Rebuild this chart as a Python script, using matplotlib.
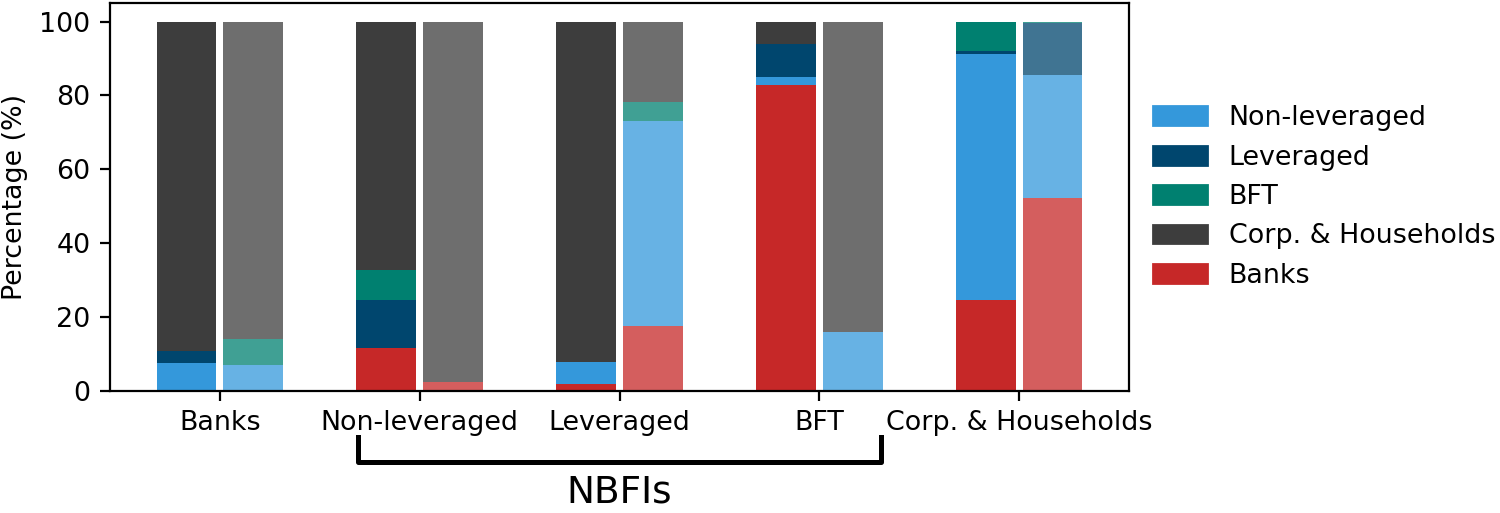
import numpy as np
import matplotlib
matplotlib.use('Agg')
import matplotlib.pyplot as plt
from matplotlib.patches import Patch
import matplotlib.transforms as mtransforms

#--① data (percent shares)
categories = ['Banks', 'Non-leveraged', 'Leveraged', 'BFT', 'Corp. & Households']

# left (solid) bars
banks_a  = [0.0, 11.6, 1.9, 82.8, 24.7]
nonlev_a = [7.5, 0.0, 6.0, 2.3, 66.6]
lev_a    = [3.4, 13.0, 0.0, 8.7, 0.8]
bft_a    = [0.0, 8.2, 0.0, 0.0, 7.9]
corp_a   = [89.1, 67.2, 92.1, 6.2, 0.0]

# right (light) bars
banks_b  = [0.0, 2.4, 17.6, 0.0, 52.1]
nonlev_b = [7.1, 0.0, 55.6, 16.0, 33.5]
lev_b    = [0.0, 0.0, 0.0, 0.0, 14.1]
bft_b    = [7.0, 0.0, 4.9, 0.0, 0.3]
corp_b   = [85.9, 97.6, 21.9, 84.0, 0.0]

#--② colours
c_nonlev = '#3498db'
c_lev = '#00466e'
c_bft = '#008070'
c_corp = '#3d3d3d'
c_banks = '#c62828'

fs = 9.7
x = np.arange(len(categories))
w = 0.3
off = 0.167

fig = plt.figure(figsize=(7.5, 2.565), dpi=200)
ax = fig.add_axes([0.0733, 0.238, 0.6794, 0.756])

#--③ stacked bars, bottom to top: banks, non-lev, lev, BFT, corp
def stack(pos, series, alpha):
    bottom = np.zeros(len(categories))
    for vals, col in series:
        ax.bar(pos, vals, w, bottom=bottom, color=col, alpha=alpha, linewidth=0)
        bottom += np.array(vals)

stack(x - off, [(banks_a, c_banks), (nonlev_a, c_nonlev), (lev_a, c_lev),
                (bft_a, c_bft), (corp_a, c_corp)], 1.0)
stack(x + off, [(banks_b, c_banks), (nonlev_b, c_nonlev), (lev_b, c_lev),
                (bft_b, c_bft), (corp_b, c_corp)], 0.75)

ax.set_xlim(-0.55, 4.55)
ax.set_ylim(0, 105)
ax.set_yticks([0, 20, 40, 60, 80, 100])
ax.set_xticks(x)
ax.set_xticklabels(categories, fontsize=fs)
ax.tick_params(axis='y', labelsize=fs)
ax.set_ylabel('Percentage (%)', fontsize=fs)

#--④ legend
handles = [Patch(color=c_nonlev, label='Non-leveraged'),
           Patch(color=c_lev, label='Leveraged'),
           Patch(color=c_bft, label='BFT'),
           Patch(color=c_corp, label='Corp. & Households'),
           Patch(color=c_banks, label='Banks')]
ax.legend(handles=handles, loc='center left', bbox_to_anchor=(1.0, 0.5),
          frameon=False, fontsize=fs, labelspacing=0.5)

#--⑤ NBFIs bracket under the axis
trans = mtransforms.blended_transform_factory(ax.transData, ax.transAxes)
ax.plot([0.69, 0.69, 3.31, 3.31], [-0.119, -0.183, -0.183, -0.119],
        color='black', lw=1.8, transform=trans, clip_on=False)
ax.text(2.0, -0.262, 'NBFIs', transform=trans, ha='center', va='center',
        fontsize=13.5)

fig.savefig('out.png', dpi=200)
